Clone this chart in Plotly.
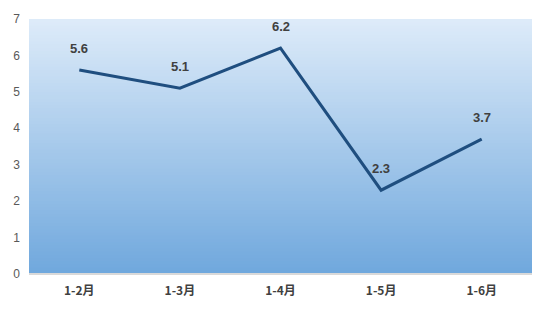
import plotly.graph_objects as go

categories = ["1-2月", "1-3月", "1-4月", "1-5月", "1-6月"]
values = [5.6, 5.1, 6.2, 2.3, 3.7]
y_ticks = [0, 1, 2, 3, 4, 5, 6, 7]

fig = go.Figure()

# gradient background bands
top = (221, 235, 249)
bot = (112, 168, 221)
n = 80
shapes = []
for i in range(n):
    t = i / (n - 1)
    c = tuple(round(top[k] + (bot[k] - top[k]) * t) for k in range(3))
    shapes.append(dict(type="rect", xref="x domain", yref="y domain",
                       x0=0, x1=1, y0=max(0, 1 - (i + 1) / n - 0.006), y1=1 - i / n,
                       fillcolor="rgb(%d,%d,%d)" % c, line=dict(width=0), layer="below"))
shapes.append(dict(type="line", xref="x domain", yref="y domain", x0=0, x1=1, y0=0, y1=0,
                   line=dict(color="#d9d9d9", width=2), layer="above"))

fig.add_trace(go.Scatter(
    x=categories, y=values, mode="lines",
    line=dict(color="#1f4e7f", width=3),
))

annotations = [dict(x=c, y=v, text=f"<b>{v:.1f}</b>", showarrow=False, yshift=22,
                    font=dict(family="Liberation Sans, Arial", size=13, color="#404040"))
               for c, v in zip(categories, values)]

fig.update_layout(
    width=549, height=312,
    margin=dict(l=29, r=17, t=17, b=38),
    paper_bgcolor="white", plot_bgcolor="rgba(0,0,0,0)",
    shapes=shapes, annotations=annotations, showlegend=False,
    xaxis=dict(range=[-0.5, 4.5], showgrid=False, zeroline=False, showline=False,
               tickfont=dict(family="Noto Sans CJK SC", size=12, color="#404040", weight="bold"),
               ticks="", ticklabelstandoff=8),
    yaxis=dict(range=[0, 7], tickvals=y_ticks, showgrid=False, zeroline=False, showline=False,
               tickfont=dict(family="Liberation Sans, Arial", size=12, color="#595959"),
               ticks="", ticklabelstandoff=8),
)
fig.write_html("out.html")
